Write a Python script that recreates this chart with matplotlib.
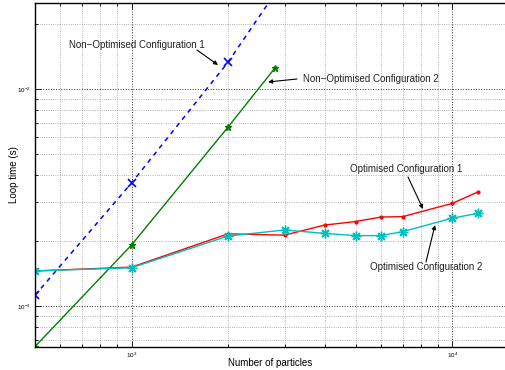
import matplotlib
matplotlib.use("Agg")
import matplotlib.pyplot as plt
from matplotlib.ticker import LogLocator, FixedLocator, NullFormatter

plt.rcParams['font.family'] = ['Liberation Sans', 'DejaVu Sans']
plt.rcParams['mathtext.fontset'] = 'custom'
plt.rcParams['mathtext.rm'] = 'Liberation Sans'

# Data
x_nonopt1 = [500, 1000, 2000, 3000]
y_nonopt1 = [1.12e-3, 3.69e-3, 1.33e-2, 3.2e-2]

x_nonopt2 = [500, 1000, 2000, 2800]
y_nonopt2 = [6.5e-4, 1.91e-3, 6.68e-3, 1.25e-2]

x_opt = [500, 1000, 2000, 3000, 4000, 5000, 6000, 7000, 10000, 12000]
y_opt1 = [1.45e-3, 1.51e-3, 2.15e-3, 2.12e-3, 2.36e-3, 2.45e-3, 2.57e-3, 2.58e-3, 2.97e-3, 3.35e-3]
y_opt2 = [1.45e-3, 1.50e-3, 2.10e-3, 2.24e-3, 2.16e-3, 2.11e-3, 2.11e-3, 2.20e-3, 2.54e-3, 2.67e-3]

labels = ["Non\u2212Optimised Configuration 1", "Non\u2212Optimised Configuration 2",
          "Optimised Configuration 1", "Optimised Configuration 2"]

W, H = 505, 370
fig = plt.figure(figsize=(W/100, H/100), dpi=100)
ax = fig.add_axes([35/W, (H-347)/H, (W-35)/W, 344/H])

green = (0, 0.5, 0)
cyan = (0, 0.75, 0.75)
ax.plot(x_nonopt1, y_nonopt1, color='blue', ls=(0, (3, 3)), lw=1.1, marker='x', ms=6, mew=1.2)
ax.plot(x_nonopt2, y_nonopt2, color=green, ls='-', lw=1, marker='*', ms=5)
ax.plot(x_opt, y_opt1, color='red', ls='-', lw=1, marker='.', ms=4)
ax.plot(x_opt, y_opt2, color=cyan, ls='-', lw=1, marker=(8, 2, 0), ms=7, mew=1)

ax.set_xscale('log')
ax.set_yscale('log')
ax.set_xlim(500, 14600)
ax.set_ylim(6.47e-4, 0.0249)

ax.xaxis.set_major_locator(FixedLocator([1e3, 1e4]))
ax.xaxis.set_minor_locator(LogLocator(base=10, subs=range(2, 10), numticks=20))
ax.yaxis.set_major_locator(FixedLocator([1e-3, 1e-2]))
ax.yaxis.set_minor_locator(LogLocator(base=10, subs=range(2, 10), numticks=20))
ax.xaxis.set_minor_formatter(NullFormatter())
ax.yaxis.set_minor_formatter(NullFormatter())
ax.set_xticklabels([r'$10^{3}$', r'$10^{4}$'])
ax.set_yticklabels([r'$10^{-3}$', r'$10^{-2}$'])

ax.tick_params(which='both', direction='in', top=True, right=False, labelsize=4.5, width=0.6, color='black')
ax.tick_params(which='major', length=4, pad=3)
ax.tick_params(which='minor', length=2)

ax.grid(True, which='major', ls=':', color='black', lw=0.7, alpha=0.8)
ax.grid(True, which='minor', ls=':', color='#999999', lw=0.6)
ax.set_axisbelow(True)

for s in ['left', 'bottom', 'top']:
    ax.spines[s].set_linewidth(1.0)
ax.spines['right'].set_visible(False)

ax.set_xlabel("Number of particles", fontsize=7)
ax.set_ylabel("Loop time (s)", fontsize=7)
ax.xaxis.set_label_coords(0.5, (347 - 363) / 344, transform=ax.transAxes)
ax.yaxis.set_label_coords((14 - 35) / 470, 0.5, transform=ax.transAxes)
ax.xaxis.label.set_va('center')
ax.yaxis.label.set_va('center')

def px2data(px, py):
    inv = ax.transData.inverted()
    disp = (px, H - py)
    return tuple(inv.transform(disp))

arrowprops = dict(arrowstyle='-|>', color='black', lw=0.8, mutation_scale=6, shrinkA=0, shrinkB=0)
ann = [
    (labels[0], (137, 45), (197, 50), (218, 65)),
    (labels[1], (371, 79), (297, 79), (268, 82)),
    (labels[2], (406, 169), (408, 177), (423, 209)),
    (labels[3], (426, 267), (426, 262), (435, 225)),
]
fig.canvas.draw()
for txt, tpos, astart, aend in ann:
    ax.text(*px2data(*tpos), txt, fontsize=7, ha='center', va='center', color='#222222')
    ax.annotate('', xy=px2data(*aend), xytext=px2data(*astart), arrowprops=arrowprops)

fig.savefig("out.png", dpi=100)
